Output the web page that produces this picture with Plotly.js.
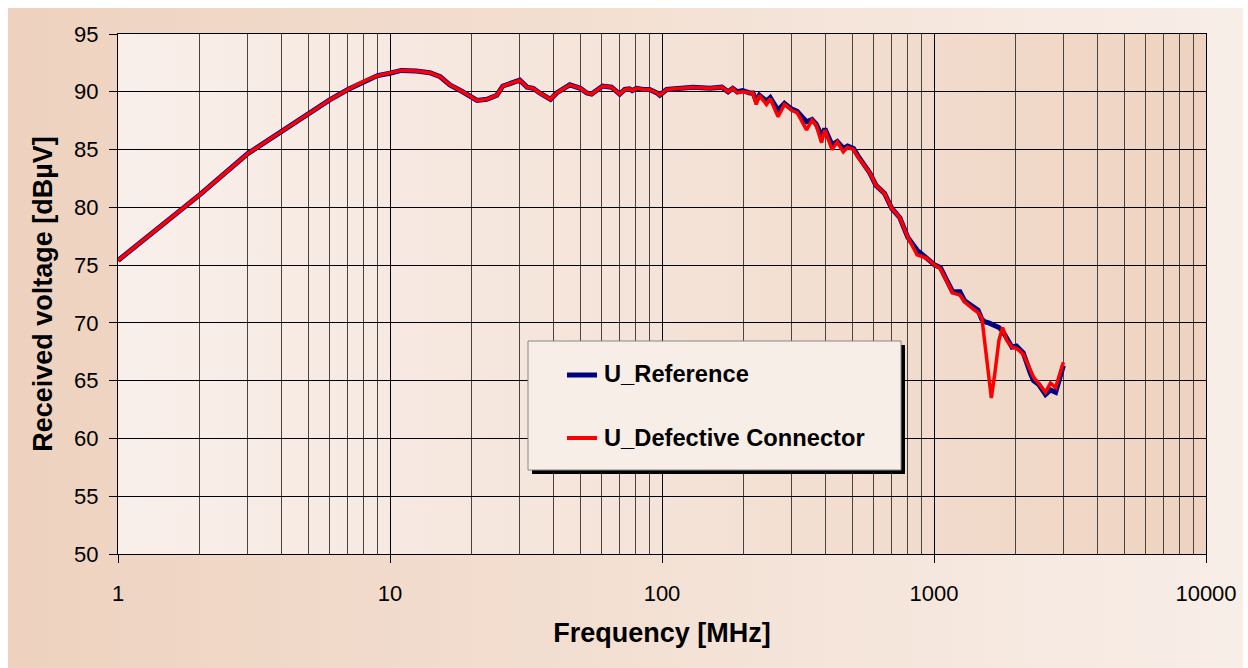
<!DOCTYPE html>
<html>
<head>
<meta charset="utf-8">
<script src="https://cdn.plot.ly/plotly-3.0.1.min.js"></script>
<style>
  html, body { margin: 0; padding: 0; background: #ffffff; }
  #wrap { position: relative; width: 1248px; height: 668px; overflow: hidden; }
  #outerbg { position: absolute; left: 8px; top: 8px; width: 1235px; height: 660px;
    background: linear-gradient(to right, #EED2BF 0%, #F3E0D3 50%, #F8EEE8 100%); }
  #innerbg { position: absolute; left: 118px; top: 34px; width: 1088px; height: 520px;
    background: linear-gradient(to right, #F9EFEA 0%, #F4E3D8 50%, #EFD3C0 100%); }
  #chart { position: absolute; left: 0; top: 0; width: 1248px; height: 668px; }
</style>
</head>
<body>
<div id="wrap">
  <div id="outerbg"></div>
  <div id="innerbg"></div>
  <div id="chart"></div>
</div>
<script>
// Frequency in MHz
const freqMHz = [1, 1.5, 2, 3, 4, 5, 6, 7, 8, 9, 10, 11, 12.5, 14, 15.3, 16.6, 18.5, 20.9, 22.7, 24.7,
  26, 28, 30, 31.9, 33.6, 35.5, 38.9, 41, 45.8, 50.1, 52.9, 55.1, 60.5, 65.2, 69.9, 73, 75.9, 77.7, 80.9, 85,
  90, 95.8, 98.1, 104, 116, 130, 150, 166, 175, 182, 189, 198, 210, 216, 222, 228, 242, 250, 267, 282,
  300, 314, 340, 356, 369, 386, 397, 411, 422, 441, 464, 481, 506, 524, 547, 580, 612, 658, 700, 749,
  801, 866, 940, 1007, 1055, 1110, 1170, 1245, 1297, 1393, 1452, 1500, 1534, 1590, 1625, 1675, 1733, 1787, 1850, 1935,
  2010, 2128, 2265, 2323, 2420, 2570, 2680, 2800, 2930, 2990];

// Received voltage in dBµV
const uReference = [75.4, 78.75, 81.1, 84.65, 86.6, 88.1, 89.3, 90.2, 90.9, 91.4, 91.6, 91.85, 91.8, 91.65, 91.3, 90.6, 90.0, 89.25, 89.35, 89.7,
  90.5, 90.8, 91.0, 90.4, 90.3, 89.9, 89.35, 89.9, 90.6, 90.3, 89.9, 89.8, 90.5, 90.4, 89.8, 90.2, 90.25, 90.1, 90.3, 90.2,
  90.2, 89.9, 89.7, 90.2, 90.3, 90.4, 90.3, 90.4, 90.0, 90.3, 90.0, 90.1, 89.9, 89.9, 89.2, 89.7, 89.2, 89.5, 88.4, 89.0,
  88.5, 88.3, 87.4, 87.6, 87.2, 86.2, 86.8, 85.9, 85.4, 85.7, 85.1, 85.3, 85.1, 84.5, 83.9, 83.0, 81.9, 81.2, 79.9, 79.1,
  77.4, 76.3, 75.6, 75.0, 74.8, 73.8, 72.7, 72.7, 71.9, 71.4, 71.1, 70.3, 70.1, 70.0, 69.9, 69.8, 69.6, 69.3, 68.6, 67.9,
  68.0, 67.4, 65.6, 65.0, 64.7, 63.8, 64.2, 64.0, 65.6, 66.3];

const uDefective = [75.4, 78.75, 81.1, 84.65, 86.6, 88.1, 89.3, 90.2, 90.9, 91.4, 91.6, 91.85, 91.8, 91.65, 91.3, 90.6, 90.0, 89.25, 89.35, 89.7,
  90.5, 90.8, 91.0, 90.4, 90.3, 89.9, 89.35, 89.9, 90.6, 90.3, 89.9, 89.8, 90.5, 90.4, 89.8, 90.2, 90.25, 90.1, 90.3, 90.2,
  90.2, 89.9, 89.7, 90.2, 90.3, 90.4, 90.3, 90.4, 90.0, 90.3, 89.9, 90.0, 89.9, 89.9, 88.9, 89.7, 88.9, 89.4, 87.85, 88.9,
  88.4, 88.2, 86.7, 87.55, 87.1, 85.6, 86.7, 85.8, 85.0, 85.65, 84.8, 85.2, 85.0, 84.4, 83.8, 83.0, 81.9, 81.2, 79.9, 79.1,
  77.4, 75.9, 75.6, 75.0, 74.7, 73.7, 72.6, 72.4, 71.8, 71.2, 70.9, 70.4, 68.5, 65.05, 63.5, 65.7, 68.5, 69.6, 68.5, 67.9,
  67.8, 67.3, 65.9, 65.3, 64.8, 64.0, 64.8, 64.4, 65.9, 66.6];

const xTickVals = [1, 10, 100, 1000, 10000];
const xTickText = ['1', '10', '100', '1000', '10000'];
const seriesNames = ['U_Reference', 'U_Defective Connector'];
const seriesColors = ['#000080', '#FF0000'];

// minor grid positions (2..9 in each decade)
const minorVals = [];
[1, 10, 100, 1000].forEach(d => { for (let k = 2; k <= 9; k++) minorVals.push(k * d); });

const FONT = 'Arial, "Liberation Sans", sans-serif';

// plot-area pixel -> paper coordinates
const PL = 118, PR = 1206, PT = 34, PB = 554;
const px = x => (x - PL) / (PR - PL);
const py = y => (PB - y) / (PB - PT);

const traces = [
  { x: freqMHz, y: uReference, type: 'scatter', mode: 'lines', name: seriesNames[0],
    line: { color: seriesColors[0], width: 5 }, showlegend: false },
  { x: freqMHz, y: uDefective, type: 'scatter', mode: 'lines', name: seriesNames[1],
    line: { color: seriesColors[1], width: 3.5 }, showlegend: false }
];

const layout = {
  width: 1248, height: 668,
  margin: { l: PL, r: 1248 - PR, t: PT, b: 668 - PB, pad: 0 },
  paper_bgcolor: 'rgba(0,0,0,0)',
  plot_bgcolor: 'rgba(0,0,0,0)',
  font: { family: FONT, color: '#000000' },
  xaxis: {
    type: 'log', range: [0, 4],
    tickmode: 'array', tickvals: xTickVals, ticktext: xTickText,
    tickfont: { size: 22, family: FONT, color: '#000' },
    ticks: 'outside', ticklen: 8, tickcolor: '#000', tickwidth: 1,
    ticklabelstandoff: 12,
    showgrid: true, gridcolor: '#000000', gridwidth: 1,
    minor: { tickmode: 'array', tickvals: minorVals, showgrid: true, gridcolor: '#4a4440', gridwidth: 1, ticks: '' },
    showline: true, linecolor: '#000', linewidth: 1, mirror: true,
    zeroline: false,
    title: { text: '<b>Frequency [MHz]</b>', font: { size: 27, family: FONT, color: '#000' }, standoff: 17 }
  },
  yaxis: {
    range: [50, 95], dtick: 5, tick0: 50,
    tickfont: { size: 22, family: FONT, color: '#000' },
    ticks: 'outside', ticklen: 8, tickcolor: '#000', tickwidth: 1,
    ticklabelstandoff: 6,
    showgrid: true, gridcolor: '#000000', gridwidth: 1,
    showline: true, linecolor: '#000', linewidth: 1, mirror: true,
    zeroline: false,
    title: { text: '<b>Received voltage [dBµV]</b>', font: { size: 27, family: FONT, color: '#000' }, standoff: 13 }
  },
  shapes: [
    // legend shadow
    { type: 'rect', xref: 'paper', yref: 'paper', layer: 'above',
      x0: px(532), x1: px(905), y0: py(474), y1: py(345),
      fillcolor: '#000000', line: { width: 0 } },
    // legend box
    { type: 'rect', xref: 'paper', yref: 'paper', layer: 'above',
      x0: px(528), x1: px(901), y0: py(470), y1: py(341),
      fillcolor: '#F8EEE8', line: { color: '#8a8480', width: 1 } },
    // legend samples
    { type: 'line', xref: 'paper', yref: 'paper', layer: 'above',
      x0: px(567), x1: px(597), y0: py(375), y1: py(375),
      line: { color: seriesColors[0], width: 5 } },
    { type: 'line', xref: 'paper', yref: 'paper', layer: 'above',
      x0: px(567), x1: px(597), y0: py(438), y1: py(438),
      line: { color: seriesColors[1], width: 4 } }
  ],
  annotations: [
    { xref: 'paper', yref: 'paper', x: px(602), y: py(374), xanchor: 'left', yanchor: 'middle',
      text: '<b>' + seriesNames[0] + '</b>', showarrow: false,
      font: { size: 23.7, family: FONT, color: '#000' } },
    { xref: 'paper', yref: 'paper', x: px(602), y: py(438), xanchor: 'left', yanchor: 'middle',
      text: '<b>' + seriesNames[1] + '</b>', showarrow: false,
      font: { size: 23.7, family: FONT, color: '#000' } }
  ],
  showlegend: false
};

Plotly.newPlot('chart', traces, layout, { displayModeBar: false, staticPlot: true });
</script>
</body>
</html>
